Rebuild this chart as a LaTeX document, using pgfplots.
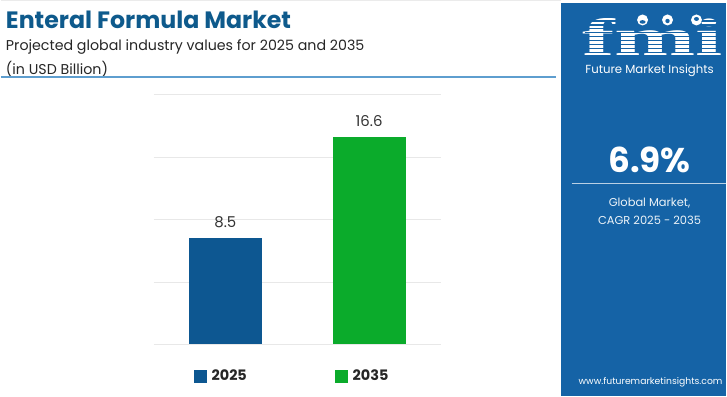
\documentclass[border=0pt]{standalone}
\usepackage{pgfplots}
\pgfplotsset{compat=1.18}
\usepackage{graphicx}
\usepackage{fontspec}
\setmainfont{Poppins}
\newfontfamily\logofont{Liberation Serif}
\definecolor{titleblue}{HTML}{0E5A8C}
\definecolor{panelblue}{HTML}{1563A6}
\definecolor{bar25}{HTML}{0D5791}
\definecolor{bar35}{HTML}{0BAB2B}
\definecolor{lineblue}{HTML}{5E9ECF}
\begin{document}
\begin{tikzpicture}
\begin{scope}[x=1bp,y=1bp]
\fill[white] (0,0) rectangle (727,397);
\draw[black!8, line width=1bp] (0,396) -- (561,396);
% title block
\node[anchor=west, inner sep=0pt, text=titleblue] at (5,377) {\fontsize{23.8}{26}\selectfont\bfseries Enteral Formula Market};
\node[anchor=west, inner sep=0pt, text=black!85] at (5,350) {\fontsize{14.3}{17}\selectfont Projected global industry values for 2025 and 2035};
\node[anchor=west, inner sep=0pt, text=black!85] at (5,328) {\fontsize{14.3}{17}\selectfont (in USD Billion)};
\draw[lineblue, line width=1.6bp] (0,320) -- (556,320);
% right panel
\fill[panelblue] (561,0) rectangle (727,394);
\node[inner sep=0pt, text=white, anchor=base] at (653,341) {\scalebox{1.85}[1]{\fontsize{53}{53}\selectfont\logofont\bfseries fmi}};
\foreach \yy in {344,348,...,382} {\draw[panelblue, line width=1.1bp] (585,\yy) -- (722,\yy);}
\fill[white] (643,377) circle (5.5);
\fill[white] (668,377) circle (5.5);
\fill[white] (697,377) circle (5.5);
\fill[panelblue] (643,375) ellipse (3 and 1.8);
\fill[panelblue] (668,376) circle (2.2);
\fill[panelblue] (697,378) ellipse (2.5 and 2);
\node[inner sep=0pt, text=white] at (650,326) {\fontsize{11.8}{13}\selectfont Future Market Insights};
\node[inner sep=0pt, text=white] at (650,237) {\fontsize{34.5}{40}\selectfont\bfseries 6.9\%};
\draw[white!70!panelblue, line width=1.2bp] (572,213) -- (727,213);
\node[inner sep=0pt, text=white!92!panelblue] at (650,194) {\fontsize{11.5}{14}\selectfont Global Market,};
\node[inner sep=0pt, text=white!92!panelblue] at (650,176) {\fontsize{11.5}{14}\selectfont CAGR 2025 - 2035};
\node[inner sep=0pt, text=white] at (651,14) {\fontsize{9.3}{11}\selectfont www.futuremarketinsights.com};
\end{scope}
\begin{axis}[
  at={(153bp,52bp)}, anchor=south west,
  scale only axis, width=288bp, height=250bp,
  xmin=-0.5, xmax=1.5, ymin=0, ymax=20,
  ytick={0,5,10,15,20}, yticklabels={}, xtick=\empty,
  ymajorgrids, grid style={draw=black!9, line width=0.8bp},
  axis line style={draw=none}, tick style={draw=none},
  ybar, bar width=73bp, bar shift=0pt,
  nodes near coords,
  /pgf/number format/assume math mode=true,
  every node near coord/.append style={font=\fontsize{15}{18}\selectfont, text=black!80, yshift=7bp},
  legend columns=2,
  legend style={at={(rel axis cs:0.139,-0.128)}, anchor=west, draw=none, fill=none, inner sep=0pt,
    font=\fontsize{14.5}{16}\selectfont\bfseries, text=black!85,
    /tikz/every odd column/.append style={column sep=3bp},
    /tikz/every even column/.append style={column sep=86bp}},
  legend image code/.code={\fill[#1, draw=none] (0bp,-6.5bp) rectangle (13bp,6.5bp);},
]
\addplot[fill=bar25, draw=none] coordinates {(0,8.5)};
\addplot[fill=bar35, draw=none] coordinates {(1,16.6)};
\legend{2025,2035}
\end{axis}
\end{tikzpicture}
\end{document}
